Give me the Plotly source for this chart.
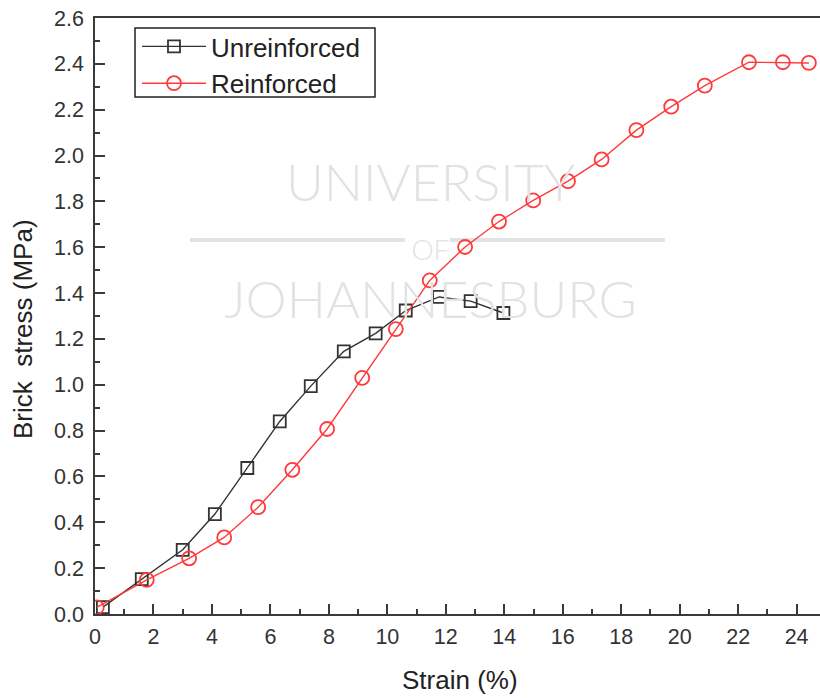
import plotly.graph_objects as go

# Unreinforced brick
unr_strain = [0.27, 1.6, 3.0, 4.1, 5.21, 6.32, 7.38, 8.51, 9.6, 10.63, 11.77, 12.85, 13.97]
unr_stress = [0.03, 0.152, 0.28, 0.436, 0.637, 0.84, 0.994, 1.146, 1.224, 1.324, 1.383, 1.365, 1.313]

# Reinforced brick
rei_strain = [0.06, 1.77, 3.22, 4.42, 5.58, 6.75, 7.94, 9.14, 10.29, 11.45, 12.66, 13.82,
              14.99, 16.18, 17.33, 18.52, 19.71, 20.86, 22.37, 23.53, 24.42]
rei_stress = [0.029, 0.149, 0.243, 0.334, 0.466, 0.629, 0.807, 1.03, 1.243, 1.455, 1.601, 1.712,
              1.804, 1.888, 1.983, 2.111, 2.213, 2.305, 2.407, 2.407, 2.404]

x_ticks = list(range(0, 25, 2))
y_ticks = [round(0.2 * i, 1) for i in range(14)]

FONT = "Liberation Sans, Arial, sans-serif"
AX = "#3a3a3a"
L, T, W, H = 95, 18, 725, 596  # plot area in pixels


def px(xp):
    return (xp - L) / W


def py(yp):
    return (T + H - yp) / H


fig = go.Figure()
fig.add_trace(go.Scatter(
    x=unr_strain, y=unr_stress, mode="lines+markers", name="Unreinforced",
    line=dict(color="#333333", width=1.4),
    marker=dict(symbol="square-open", size=12, color="#333333", line=dict(width=1.8)),
))
fig.add_trace(go.Scatter(
    x=rei_strain, y=rei_stress, mode="lines+markers", name="Reinforced",
    line=dict(color="#ff3a3a", width=1.4),
    marker=dict(symbol="circle-open", size=14, color="#ff3a3a", line=dict(width=1.8)),
))

# faint watermark text (one text block)
WMC = "#e2e2e2"
fig.add_annotation(
    text=("<span style='font-size:52px'>UNIVERSITY</span><br>"
          "<span style='font-size:28px'>OF</span><br>"
          "<span style='font-size:52px'>JOHANNESBURG</span>"),
    x=px(430), y=py(240), xref="paper", yref="paper", showarrow=False,
    xanchor="center", yanchor="middle", align="center",
    font=dict(family="Lato, Open Sans, sans-serif", color=WMC, weight=300, size=45),
)
for x0, x1 in [(190, 405), (450, 665)]:
    fig.add_shape(type="line", xref="paper", yref="paper", layer="below",
                  x0=px(x0), x1=px(x1), y0=py(240), y1=py(240),
                  line=dict(color=WMC, width=4))

# axis titles
fig.add_annotation(text="Strain (%)", x=px(460), y=py(680), xref="paper", yref="paper",
                   showarrow=False, xanchor="center", yanchor="middle",
                   font=dict(family=FONT, size=26, color="#222222"))
fig.add_annotation(text="Brick  stress (MPa)", x=px(23), y=py(329), xref="paper", yref="paper",
                   showarrow=False, textangle=-90, xanchor="center", yanchor="middle",
                   font=dict(family=FONT, size=26, color="#222222"))

# legend frame
fig.add_shape(type="rect", xref="paper", yref="paper",
              x0=px(135), x1=px(375), y0=py(28), y1=py(97),
              line=dict(color="#222222", width=1.5))

axis_common = dict(
    showgrid=False, zeroline=False, showline=True, linecolor=AX, linewidth=1.5,
    ticks="inside", ticklen=10, tickwidth=1.5, tickcolor=AX,
    tickfont=dict(family=FONT, size=21.5, color="#333333"),
)

fig.update_xaxes(
    **axis_common, range=[0, 24.8], tickvals=x_ticks, mirror=True,
    minor=dict(ticks="inside", ticklen=5, tickwidth=1.5, tickcolor=AX, dtick=1),
    ticklabelstandoff=2,
)
fig.update_yaxes(
    **axis_common, range=[0, 2.6], tickvals=y_ticks, tickformat=".1f",
    minor=dict(ticks="inside", ticklen=5, tickwidth=1.5, tickcolor=AX, dtick=0.1),
    ticklabelstandoff=5,
)

fig.update_layout(
    width=820, height=698,
    margin=dict(l=L, r=0, t=T, b=698 - T - H),
    plot_bgcolor="white", paper_bgcolor="white",
    font=dict(family=FONT, color="#222222"),
    legend=dict(
        x=px(137), y=py(23), xanchor="left", yanchor="top",
        borderwidth=0, bgcolor="rgba(255,255,255,0)",
        font=dict(family=FONT, size=26, color="#222222"),
        tracegroupgap=0, itemwidth=64,
    ),
)

fig.write_html("out.html")
